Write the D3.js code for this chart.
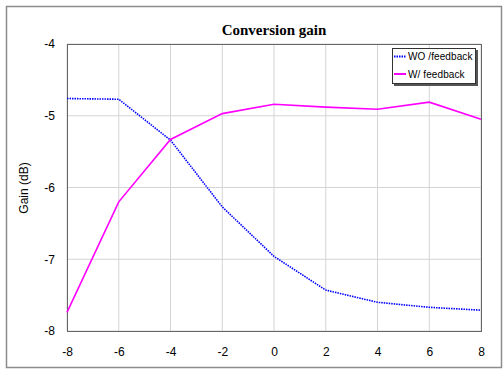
<!DOCTYPE html>
<html>
<head>
<meta charset="utf-8">
<script src="https://cdn.jsdelivr.net/npm/d3@7"></script>
<style>
  body { margin: 0; background: #fff; }
  svg { display: block; }
  .tick text { font-family: Arial, "Liberation Sans", sans-serif; font-size: 12px; fill: #000; }
</style>
</head>
<body>
<svg id="chart" width="503" height="370"></svg>
<script>
// values
const xVals = [-8, -6, -4, -2, 0, 2, 4, 6, 8];
const woFeedback = [-4.76, -4.77, -5.34, -6.27, -6.96, -7.43, -7.60, -7.67, -7.71];
const wFeedback = [-7.74, -6.20, -5.33, -4.97, -4.84, -4.88, -4.91, -4.81, -5.05];
const xTicks = [-8, -6, -4, -2, 0, 2, 4, 6, 8];
const yTicks = [-4, -5, -6, -7, -8];
const seriesNames = ['WO /feedback', 'W/ feedback'];

const margin = { top: 44, right: 22, bottom: 39, left: 67 };
const width = 503 - margin.left - margin.right;
const height = 370 - margin.top - margin.bottom;

const svg = d3.select('#chart');

// outer frame
svg.append('rect')
  .attr('x', 6.5).attr('y', 6.5)
  .attr('width', 495).attr('height', 361)
  .attr('fill', '#fff')
  .attr('stroke', '#8c8c8c')
  .attr('stroke-width', 1.5);

svg.append('text')
  .attr('x', 274).attr('y', 35)
  .attr('text-anchor', 'middle')
  .style('font-family', '"Liberation Serif", "Times New Roman", serif')
  .style('font-weight', 'bold')
  .style('font-size', '15px')
  .text('Conversion gain');

const g = svg.append('g')
  .attr('transform', `translate(${margin.left},${margin.top})`);

const x = d3.scaleLinear().domain([-8, 8]).range([0, width]);
const y = d3.scaleLinear().domain([-8, -4]).range([height, 0]);

// gridlines
g.append('g')
  .selectAll('line.vg')
  .data(xTicks)
  .enter().append('line')
  .attr('x1', d => x(d)).attr('x2', d => x(d))
  .attr('y1', 0).attr('y2', height)
  .attr('stroke', '#d4d4d4');

g.append('g')
  .selectAll('line.hg')
  .data(yTicks)
  .enter().append('line')
  .attr('x1', 0).attr('x2', width)
  .attr('y1', d => y(d)).attr('y2', d => y(d))
  .attr('stroke', '#d4d4d4');

// axes (plain hyphen, not unicode minus)
const xAxis = g.append('g')
  .attr('transform', `translate(0,${height})`)
  .call(d3.axisBottom(x).tickValues(xTicks).tickSize(0).tickPadding(16).tickFormat(d => String(d)));
xAxis.select('.domain').remove();

const yAxis = g.append('g')
  .call(d3.axisLeft(y).tickValues(yTicks).tickSize(0).tickPadding(12).tickFormat(d => String(d)));
yAxis.select('.domain').remove();

svg.append('text')
  .attr('transform', 'translate(28,188) rotate(-90)')
  .attr('text-anchor', 'middle')
  .style('font-family', 'Arial, "Liberation Sans", sans-serif')
  .style('font-size', '12px')
  .text('Gain (dB)');

// plot frame
g.append('rect')
  .attr('x', 0.5).attr('y', 0.5)
  .attr('width', width).attr('height', height)
  .attr('fill', 'none')
  .attr('stroke', '#666');

const line = d3.line()
  .x((d, i) => x(xVals[i]))
  .y(d => y(d));

g.append('path')
  .datum(woFeedback)
  .attr('d', line)
  .attr('fill', 'none')
  .attr('stroke', '#0000ff')
  .attr('stroke-width', 1.6)
  .attr('stroke-dasharray', '1.5,1');

g.append('path')
  .datum(wFeedback)
  .attr('d', line)
  .attr('fill', 'none')
  .attr('stroke', '#ff00ff')
  .attr('stroke-width', 1.6);

// legend
const lg = svg.append('g').attr('transform', 'translate(392,48)');
lg.append('rect')
  .attr('x', 2).attr('y', 2)
  .attr('width', 84).attr('height', 36)
  .attr('fill', '#555');
lg.append('rect')
  .attr('x', 0.5).attr('y', 0.5)
  .attr('width', 83).attr('height', 35)
  .attr('fill', '#fff')
  .attr('stroke', '#333');

const styles = [
  { color: '#0000ff', dash: '1.5,1' },
  { color: '#ff00ff', dash: null }
];
seriesNames.forEach((name, i) => {
  const yy = 8.5 + i * 17.5;
  lg.append('line')
    .attr('x1', 2).attr('x2', 14)
    .attr('y1', yy).attr('y2', yy)
    .attr('stroke', styles[i].color)
    .attr('stroke-width', 2)
    .attr('stroke-dasharray', styles[i].dash);
  lg.append('text')
    .attr('x', 16).attr('y', yy + 3.5)
    .style('font-family', 'Arial, "Liberation Sans", sans-serif')
    .style('font-size', '10px')
    .style('letter-spacing', '0.1px')
    .text(name);
});
</script>
</body>
</html>
